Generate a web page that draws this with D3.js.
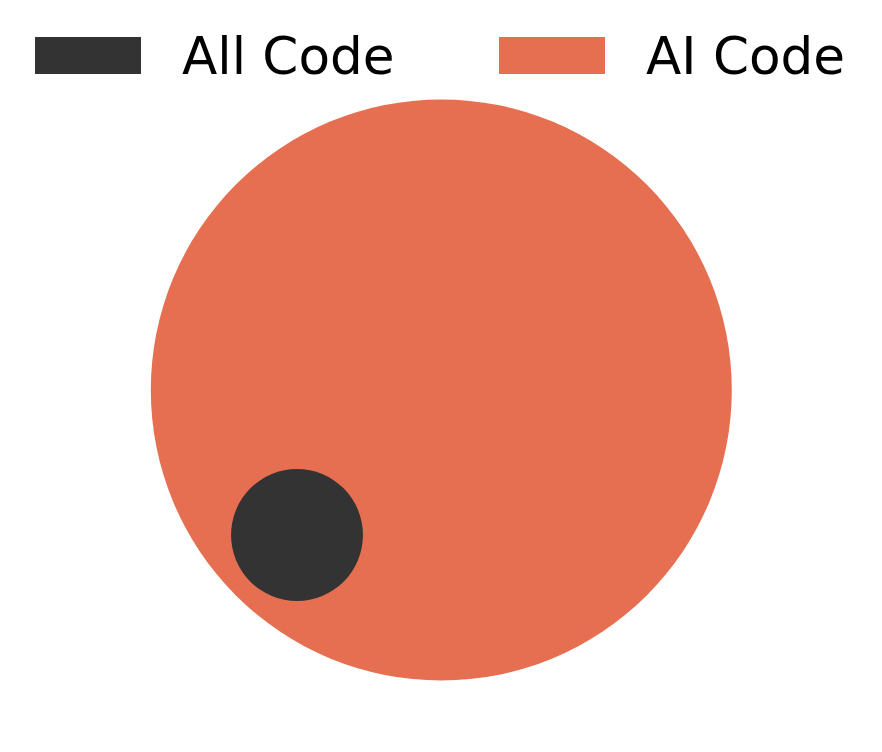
<!DOCTYPE html>
<html>
<head>
<meta charset="utf-8">
<script src="https://cdn.jsdelivr.net/npm/d3@7"></script>
<style>
  html, body { margin: 0; padding: 0; background: #fff; }
  svg { display: block; }
</style>
</head>
<body>
<script>
// Data
const categories = ["All Code", "AI Code"];
const values = [1, 19.4];           // relative size (area) of each group
const colors = ["#333333", "#E76F51"];

const W = 882, H = 752;
const svg = d3.select("body").append("svg").attr("width", W).attr("height", H);

// radius scale: sqrt so area is proportional to value
const rScale = d3.scaleSqrt().domain([0, d3.max(values)]).range([0, 290.5]);

const cx = 441.3, cy = 390;
// placement of each circle relative to the big circle centre
const offsets = [[-144.3, 145], [0, 0]];

const nodes = categories.map((c, i) => ({
  name: c, value: values[i], color: colors[i],
  r: rScale(values[i]), x: cx + offsets[i][0], y: cy + offsets[i][1]
}));

// draw biggest first
svg.append("g").selectAll("circle")
  .data(nodes.slice().sort((a, b) => b.value - a.value))
  .join("circle")
  .attr("cx", d => d.x).attr("cy", d => d.y).attr("r", d => d.r)
  .attr("fill", d => d.color);

// legend
const legendX = [35, 499];
const lg = svg.append("g").selectAll("g").data(nodes).join("g")
  .attr("transform", (d, i) => `translate(${legendX[i]},37)`);
lg.append("rect").attr("width", 106).attr("height", 37).attr("fill", d => d.color);
lg.append("text").attr("x", 147).attr("y", 36.5)
  .attr("font-family", "DejaVu Sans")
  .attr("font-size", 51.6)
  .attr("fill", "#000")
  .text(d => d.name);
</script>
</body>
</html>
